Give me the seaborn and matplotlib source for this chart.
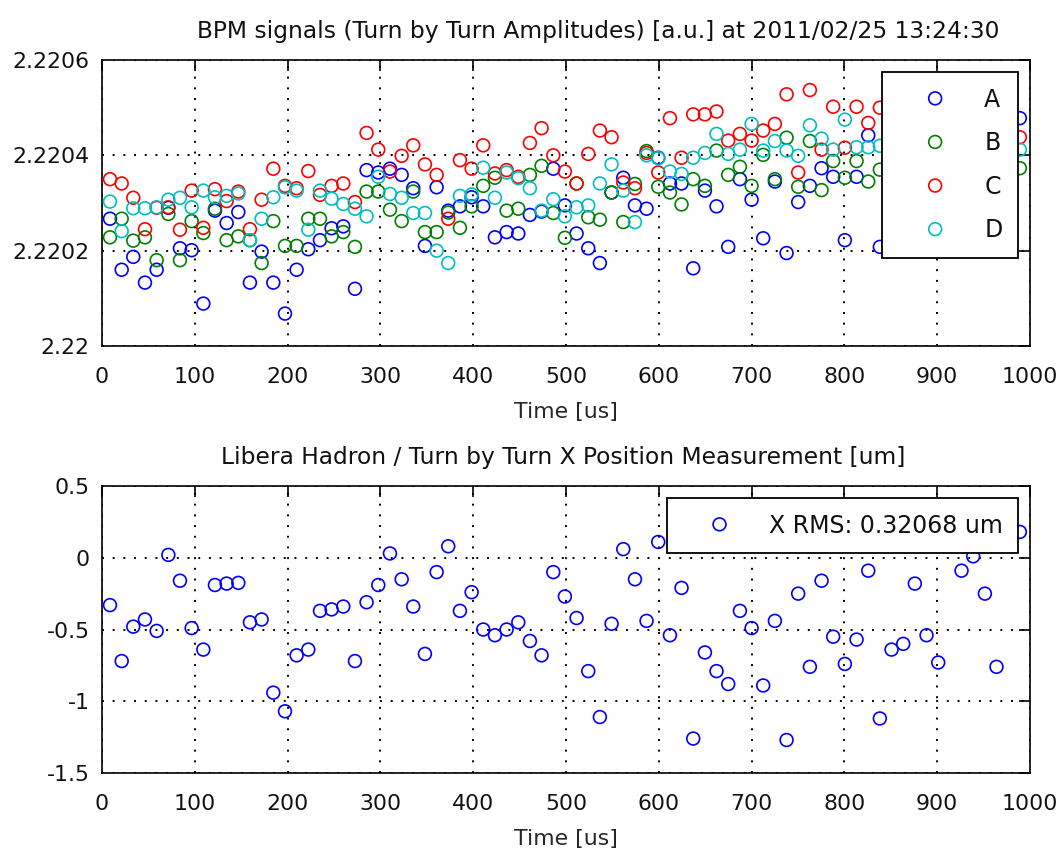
import matplotlib
matplotlib.use("Agg")
import matplotlib.pyplot as plt
import seaborn as sns

# ---------------- data ----------------
time_us = [8.6, 21.2, 33.7, 46.3, 58.9, 71.5, 84.0, 96.6, 109.2, 121.7,
           134.3, 146.9, 159.4, 172.0, 184.6, 197.2, 209.7, 222.3, 234.9, 247.4,
           260.0, 272.6, 285.1, 297.7, 310.3, 322.9, 335.4, 348.0, 360.6, 373.1,
           385.7, 398.3, 410.8, 423.4, 436.0, 448.6, 461.1, 473.7, 486.3, 498.8,
           511.4, 524.0, 536.5, 549.1, 561.7, 574.3, 586.8, 599.4, 612.0, 624.5,
           637.1, 649.7, 662.2, 674.8, 687.4, 700.0, 712.5, 725.1, 737.7, 750.2,
           762.8, 775.4, 787.9, 800.5, 813.1, 825.7, 838.2, 850.8, 863.4, 875.9,
           888.5, 901.1, 913.6, 926.2, 938.8, 951.4, 963.9, 976.5, 989.1]

sig_A = [2.220267, 2.220160, 2.220187, 2.220133, 2.220160, 2.220290, 2.220205, 2.220201, 2.220089, 2.220284,
         2.220258, 2.220281, 2.220133, 2.220198, 2.220133, 2.220068, 2.220160, 2.220203, 2.220222, 2.220247,
         2.220251, 2.220120, 2.220369, 2.220364, 2.220372, 2.220359, 2.220331, 2.220210, 2.220333, 2.220284,
         2.220293, 2.220312, 2.220293, 2.220228, 2.220239, 2.220236, 2.220275, 2.220282, 2.220372, 2.220295,
         2.220236, 2.220205, 2.220174, 2.220322, 2.220353, 2.220295, 2.220288, 2.220395, 2.220341, 2.220341,
         2.220163, 2.220326, 2.220293, 2.220208, 2.220350, 2.220307, 2.220226, 2.220345, 2.220195, 2.220302,
         2.220336, 2.220373, 2.220355, 2.220222, 2.220355, 2.220442, 2.220208, 2.220340, 2.220310, 2.220380,
         2.220290, 2.220360, 2.220320, 2.220400, 2.220330, 2.220370, 2.220300, 2.220390, 2.220478]

sig_B = [2.220228, 2.220267, 2.220221, 2.220228, 2.220180, 2.220277, 2.220180, 2.220262, 2.220237, 2.220288,
         2.220222, 2.220230, 2.220222, 2.220174, 2.220262, 2.220210, 2.220210, 2.220267, 2.220267, 2.220230,
         2.220239, 2.220208, 2.220324, 2.220324, 2.220286, 2.220262, 2.220324, 2.220239, 2.220239, 2.220280,
         2.220248, 2.220293, 2.220336, 2.220353, 2.220284, 2.220288, 2.220359, 2.220378, 2.220279, 2.220227,
         2.220341, 2.220270, 2.220265, 2.220322, 2.220260, 2.220340, 2.220409, 2.220334, 2.220322, 2.220297,
         2.220350, 2.220336, 2.220410, 2.220359, 2.220376, 2.220336, 2.220401, 2.220350, 2.220437, 2.220334,
         2.220430, 2.220327, 2.220388, 2.220353, 2.220388, 2.220345, 2.220370, 2.220390, 2.220360, 2.220400,
         2.220370, 2.220410, 2.220380, 2.220390, 2.220420, 2.220370, 2.220400, 2.220380, 2.220373]

sig_C = [2.220350, 2.220341, 2.220311, 2.220245, 2.220290, 2.220291, 2.220244, 2.220326, 2.220248, 2.220329,
         2.220304, 2.220324, 2.220245, 2.220307, 2.220372, 2.220336, 2.220331, 2.220367, 2.220317, 2.220336,
         2.220341, 2.220302, 2.220447, 2.220412, 2.220366, 2.220399, 2.220421, 2.220381, 2.220359, 2.220267,
         2.220390, 2.220372, 2.220421, 2.220362, 2.220369, 2.220355, 2.220426, 2.220457, 2.220400, 2.220366,
         2.220341, 2.220403, 2.220452, 2.220438, 2.220343, 2.220331, 2.220405, 2.220364, 2.220478, 2.220395,
         2.220486, 2.220486, 2.220492, 2.220431, 2.220445, 2.220431, 2.220452, 2.220466, 2.220528, 2.220364,
         2.220537, 2.220412, 2.220502, 2.220416, 2.220502, 2.220468, 2.220500, 2.220470, 2.220490, 2.220450,
         2.220510, 2.220480, 2.220460, 2.220500, 2.220470, 2.220520, 2.220490, 2.220460, 2.220438]

sig_D = [2.220303, 2.220241, 2.220289, 2.220289, 2.220291, 2.220307, 2.220311, 2.220291, 2.220326, 2.220312,
         2.220315, 2.220320, 2.220222, 2.220267, 2.220312, 2.220333, 2.220326, 2.220244, 2.220326, 2.220309,
         2.220298, 2.220288, 2.220272, 2.220355, 2.220319, 2.220311, 2.220279, 2.220279, 2.220200, 2.220174,
         2.220315, 2.220318, 2.220374, 2.220311, 2.220364, 2.220352, 2.220331, 2.220284, 2.220308, 2.220272,
         2.220291, 2.220295, 2.220341, 2.220381, 2.220326, 2.220260, 2.220400, 2.220394, 2.220366, 2.220361,
         2.220395, 2.220405, 2.220445, 2.220403, 2.220412, 2.220466, 2.220410, 2.220430, 2.220410, 2.220399,
         2.220463, 2.220435, 2.220412, 2.220475, 2.220417, 2.220417, 2.220420, 2.220440, 2.220420, 2.220460,
         2.220430, 2.220450, 2.220470, 2.220430, 2.220460, 2.220440, 2.220450, 2.220430, 2.220412]

x_pos_um = [-0.33, -0.72, -0.48, -0.43, -0.51, 0.02, -0.16, -0.49, -0.64, -0.19,
            -0.18, -0.175, -0.45, -0.43, -0.94, -1.07, -0.68, -0.64, -0.37, -0.36,
            -0.34, -0.72, -0.31, -0.19, 0.03, -0.15, -0.34, -0.67, -0.10, 0.08,
            -0.37, -0.24, -0.50, -0.54, -0.50, -0.45, -0.58, -0.68, -0.10, -0.27,
            -0.42, -0.79, -1.11, -0.46, 0.06, -0.15, -0.44, 0.11, -0.54, -0.21,
            -1.26, -0.66, -0.79, -0.88, -0.37, -0.49, -0.89, -0.44, -1.27, -0.25,
            -0.76, -0.16, -0.55, -0.74, -0.57, -0.09, -1.12, -0.64, -0.60, -0.18,
            -0.54, -0.73, 0.20, -0.09, 0.01, -0.25, -0.76, 0.25, 0.18]

series_names = ["A", "B", "C", "D"]
series_colors = ["#0000ff", "#008000", "#ff0000", "#00bfbf"]

x_ticks = [0, 100, 200, 300, 400, 500, 600, 700, 800, 900, 1000]
top_yticks = [2.22, 2.2202, 2.2204, 2.2206]
top_yticklabels = ["2.22", "2.2202", "2.2204", "2.2206"]
bot_yticks = [-1.5, -1.0, -0.5, 0.0, 0.5]
bot_yticklabels = ["-1.5", "-1", "-0.5", "0", "0.5"]

title_top = "BPM signals (Turn by Turn Amplitudes) [a.u.] at 2011/02/25 13:24:30"
title_bot = "Libera Hadron / Turn by Turn X Position Measurement [um]"
x_label = "Time [us]"
rms_label = "X RMS: 0.32068 um"

# ---------------- style ----------------
sns.set_style("white")
FS = 15.8
FS_TITLE = 16.8
FS_LEG = 17
plt.rcParams.update({
    "font.family": ["DejaVu Sans"],
    "font.size": FS,
    "axes.edgecolor": "black",
    "axes.linewidth": 1.2,
    "text.color": "#111111",
})

fig = plt.figure(figsize=(10.62, 8.57), dpi=100)
fig.patch.set_facecolor("white")
W, H = 1062, 857
ax1 = fig.add_axes([102 / W, 1 - 346 / H, 928 / W, 286 / H])
ax2 = fig.add_axes([102 / W, 1 - 773 / H, 928 / W, 287 / H])

MS = 85
LW = 1.2

for name, col, vals in zip(series_names, series_colors, [sig_A, sig_B, sig_C, sig_D]):
    sns.scatterplot(x=time_us, y=vals, ax=ax1, marker="o", s=MS, color=col,
                    facecolor="none", edgecolor=col, linewidth=LW, label=name,
                    zorder=3, legend=False)

sns.scatterplot(x=time_us, y=x_pos_um, ax=ax2, marker="o", s=MS, color="#0000ff",
                facecolor="none", edgecolor="#0000ff", linewidth=LW, label=rms_label,
                zorder=3, legend=False)


def style_axes(ax, yticks, yticklabels, ylim, title, title_x):
    ax.set_xlim(0, 1000)
    ax.set_ylim(*ylim)
    ax.set_xticks(x_ticks)
    ax.set_xticklabels([str(t) for t in x_ticks])
    ax.set_yticks(yticks)
    ax.set_yticklabels(yticklabels)
    ax.set_axisbelow(True)
    ax.grid(True, color="black", linestyle=(0, (1, 4.5)), linewidth=1.4)
    ax.tick_params(axis="both", direction="in", length=8, width=1.2,
                   top=True, right=True, labelsize=FS, colors="black",
                   labelcolor="#111111")
    ax.tick_params(axis="x", pad=15)
    ax.tick_params(axis="y", pad=9)
    ax.set_xlabel(x_label, fontsize=FS, labelpad=11)
    ax.set_ylabel("")
    ax.set_title(title, fontsize=FS_TITLE, pad=16, x=title_x)
    for sp in ax.spines.values():
        sp.set_visible(True)
        sp.set_color("black")
        sp.set_linewidth(1.2)


style_axes(ax1, top_yticks, top_yticklabels, (2.22, 2.2206), title_top, 0.535)
style_axes(ax2, bot_yticks, bot_yticklabels, (-1.5, 0.5), title_bot, 0.497)

leg_kw = dict(loc="upper right", fontsize=FS_LEG, borderpad=0.66,
              handlelength=3.15, handletextpad=0.5, borderaxespad=0.51,
              scatterpoints=1, scatteryoffsets=[0.5], fancybox=False,
              framealpha=1.0, edgecolor="black", frameon=True)
l1 = ax1.legend(labelspacing=0.83, **leg_kw)
l1.get_frame().set_linewidth(1.3)
l1.set_zorder(10)
l2 = ax2.legend(**leg_kw)
l2.get_frame().set_linewidth(1.3)
l2.set_zorder(10)

fig.savefig("out.png", dpi=100, facecolor="white")
